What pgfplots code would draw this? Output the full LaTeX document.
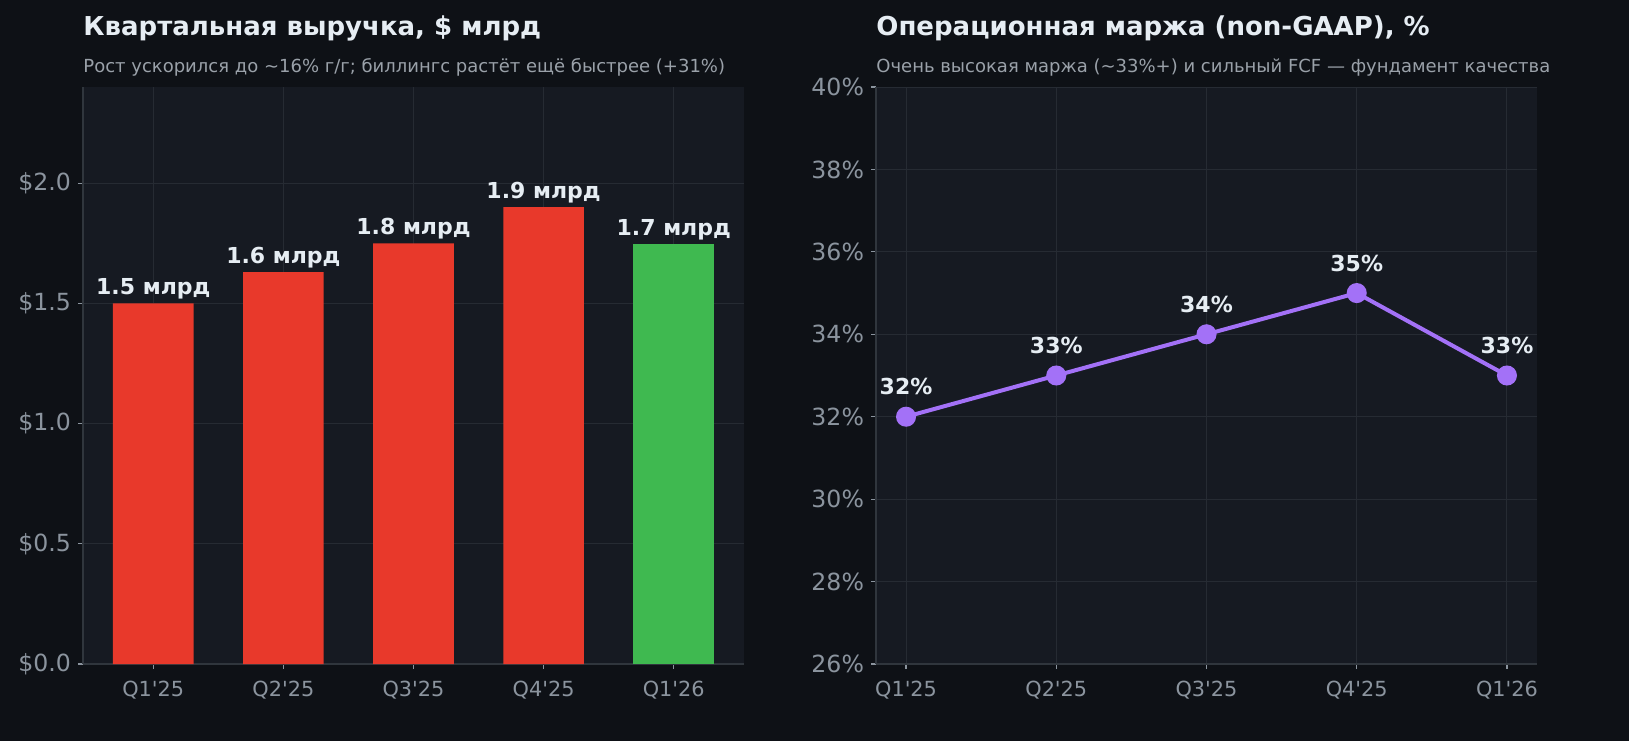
\documentclass[border=0pt]{standalone}
\usepackage{pgfplots}
\pgfplotsset{compat=1.18}
\usepackage{fontspec}
\setmainfont{DejaVu Sans}

\definecolor{figbg}{HTML}{0E1116}
\definecolor{axbg}{HTML}{161A22}
\definecolor{gridc}{HTML}{262B33}
\definecolor{spine}{HTML}{30363D}
\definecolor{ticktxt}{HTML}{8B949E}
\definecolor{titletxt}{HTML}{E6EDF3}
\definecolor{subtxt}{HTML}{9AA1A9}
\definecolor{barred}{HTML}{E8392B}
\definecolor{bargreen}{HTML}{3FB950}
\definecolor{linepurple}{HTML}{A371F7}

\pgfplotsset{
  darkaxis/.style={
    scale only axis,
    width=330.5pt, height=288.5pt,
    axis background/.style={fill=axbg},
    axis x line*=bottom, axis y line*=left,
    axis line style={-, draw=spine, line width=0.8pt},
    grid=major,
    major grid style={draw=gridc, line width=0.5pt},
    tick align=outside,
    major tick length=2.5pt,
    tick style={draw=ticktxt, line width=0.6pt},
    x tick label style={font=\fontsize{10.4}{12}\selectfont, text=ticktxt, yshift=-2.5pt},
    y tick label style={font=\fontsize{11.8}{13}\selectfont, text=ticktxt},
    xtick={0,1,2,3,4},
    xticklabels={Q1\textquotesingle25,Q2\textquotesingle25,Q3\textquotesingle25,Q4\textquotesingle25,Q1\textquotesingle26},
  },
}

\begin{document}
\begin{tikzpicture}
\fill[figbg] (-41.5pt,-38.5pt) rectangle (773pt,332pt);

% revenue bars
\begin{axis}[
  darkaxis,
  at={(0pt,0pt)}, anchor=south west,
  xmin=-0.54, xmax=4.54,
  ymin=0, ymax=2.4,
  ytick={0,0.5,1,1.5,2},
  yticklabels={\$0.0,\$0.5,\$1.0,\$1.5,\$2.0},
  ybar, bar width=0.62, bar shift=0pt,
  point meta=explicit symbolic,
  nodes near coords={\pgfplotspointmeta\ млрд},
  every node near coord/.append style={font=\bfseries\fontsize{11}{13}\selectfont, text=titletxt, anchor=south, yshift=-1.5pt},
  clip=false,
]
\addplot[fill=barred, draw=none] coordinates {
  (0,1.50) [1.5]
  (1,1.63) [1.6]
  (2,1.75) [1.8]
  (3,1.90) [1.9]
};
\addplot[fill=bargreen, draw=none] coordinates {
  (4,1.745) [1.7]
};
\node[anchor=base west, inner sep=0pt, text=titletxt, font=\bfseries\fontsize{13}{16}\selectfont]
  at ([yshift=26pt]rel axis cs:0,1) {Квартальная выручка, \$ млрд};
\node[anchor=base west, inner sep=0pt, text=subtxt, font=\fontsize{9}{11}\selectfont]
  at ([yshift=7.5pt]rel axis cs:0,1) {Рост ускорился до \textasciitilde16\% г/г; биллингс растёт ещё быстрее (+31\%)};
\end{axis}

% operating margin line
\begin{axis}[
  darkaxis,
  at={(396.5pt,0pt)}, anchor=south west,
  xmin=-0.2, xmax=4.2,
  ymin=26, ymax=40,
  ytick={26,28,30,32,34,36,38,40},
  yticklabels={26\%,28\%,30\%,32\%,34\%,36\%,38\%,40\%},
  point meta=explicit symbolic,
  nodes near coords={\pgfplotspointmeta\%},
  every node near coord/.append style={font=\bfseries\fontsize{11}{13}\selectfont, text=titletxt, anchor=south, yshift=6.5pt},
  clip=false,
]
\addplot[linepurple, line width=2pt, mark=*, mark size=4pt, mark options={fill=linepurple, draw=linepurple}] coordinates {
  (0,32) [32]
  (1,33) [33]
  (2,34) [34]
  (3,35) [35]
  (4,33) [33]
};
\node[anchor=base west, inner sep=0pt, text=titletxt, font=\bfseries\fontsize{13}{16}\selectfont]
  at ([yshift=26pt]rel axis cs:0,1) {Операционная маржа (non-GAAP), \%};
\node[anchor=base west, inner sep=0pt, text=subtxt, font=\fontsize{9}{11}\selectfont]
  at ([yshift=7.5pt]rel axis cs:0,1) {Очень высокая маржа (\textasciitilde33\%+) и сильный FCF — фундамент качества};
\end{axis}
\end{tikzpicture}
\end{document}
